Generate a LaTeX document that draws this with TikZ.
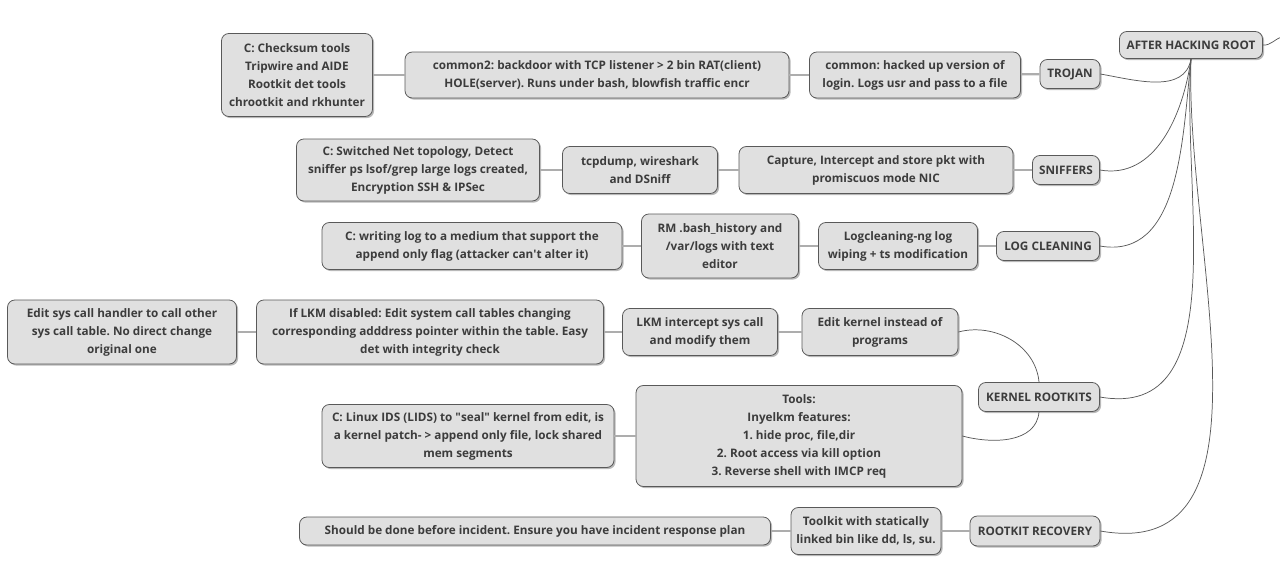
\documentclass[tikz,border=0pt]{standalone}
\usepackage{fontspec}
\setmainfont{Open Sans}
\usepackage{tikz}
\usetikzlibrary{shadows,positioning}
\definecolor{boxfill}{HTML}{E0E0E0}
\definecolor{boxline}{HTML}{595959}
\definecolor{boxtext}{HTML}{3C3C3C}
\definecolor{linkgray}{HTML}{ADADAD}
\frenchspacing

\begin{document}
\begin{tikzpicture}[x=0.75pt,y=-0.75pt,
  box/.style={draw=boxline,fill=boxfill,rounded corners=5.5pt,line width=0.6pt,
    text=boxtext,align=center,inner sep=1pt,
    font=\fontsize{8.8}{13.5}\selectfont\bfseries,
    drop shadow={shadow xshift=1.2pt,shadow yshift=-1.2pt,fill=black!55}},
  boxsize/.style 2 args={minimum width=#1*0.75pt,minimum height=#2*0.75pt},
  link/.style={draw=linkgray,line width=1.6pt},
  branch/.style={draw=boxline,line width=0.55pt}]
  \useasboundingbox (0,0) rectangle (1280,565);
  \node (root) [box,boxsize={143}{27}] at (1191,45) {AFTER HACKING ROOT};
  \node (trojan) [box,boxsize={60}{29}] at (1070,74) {TROJAN};
  \node (hacklogin) [box,boxsize={211}{46}] at (915,75) {common: hacked up version of\\login. Logs usr and pass to a file};
  \node (backdoor) [box,boxsize={384}{46}] at (597,75) {common2: backdoor with TCP listener > 2 bin RAT(client)\\HOLE(server). Runs under bash, blowfish traffic encr};
  \node (checksum) [box,boxsize={151}{83}] at (297,75) {C: Checksum tools\\Tripwire and AIDE\\Rootkit det tools\\chrootkit and rkhunter};
  \node (sniffers) [box,boxsize={67}{29}] at (1066,170) {SNIFFERS};
  \node (capture) [box,boxsize={274}{47}] at (876,170) {Capture, Intercept and store pkt with\\promiscuos mode NIC};
  \node (tcpdump) [box,boxsize={155}{47}] at (640,170) {tcpdump, wireshark\\and DSniff};
  \node (switched) [box,boxsize={243}{62}] at (418,170) {C: Switched Net topology, Detect\\sniffer ps lsof/grep large logs created,\\Encryption SSH \& IPSec};
  \node (logclean) [box,boxsize={103}{29}] at (1048,246) {LOG CLEANING};
  \node (logng) [box,boxsize={159}{47}] at (898,246) {Logcleaning-ng log\\wiping + ts modification};
  \node (rmhist) [box,boxsize={157}{64}] at (720,246) {RM .bash\_history and\\/var/logs with text\\editor};
  \node (appendonly) [box,boxsize={300}{47}] at (472,246) {C: writing log to a medium that support the\\append only flag (attacker can\textquotesingle t alter it)};
  \node (kernel) [box,boxsize={121}{29}] at (1039,397) {KERNEL ROOTKITS};
  \node (editkernel) [box,boxsize={156}{47}] at (880,332) {Edit kernel instead of\\programs};
  \node (lkm) [box,boxsize={155}{47}] at (700,332) {LKM intercept sys call\\and modify them};
  \node (nolkm) [box,boxsize={347}{64}] at (430,332) {If LKM disabled: Edit system call tables changing\\corresponding adddress pointer within the table. Easy\\det with integrity check};
  \node (handler) [box,boxsize={229}{64}] at (122,332) {Edit sys call handler to call other\\sys call table. No direct change\\original one};
  \node (tools) [box,boxsize={326}{101}] at (799,436) {Tools:\\Inyelkm features:\\1. hide proc, file,dir\\2. Root access via kill option\\3. Reverse shell with IMCP req};
  \node (lids) [box,boxsize={292}{63}] at (468,436) {C: Linux IDS (LIDS) to \textquotedbl seal\textquotedbl{} kernel from edit, is\\a kernel patch- > append only file, lock shared\\mem segments};
  \node (recovery) [box,boxsize={130}{30}] at (1035,531) {ROOTKIT RECOVERY};
  \node (toolkit) [box,boxsize={150}{47}] at (866,531) {Toolkit with statically\\linked bin like dd, ls, su.};
  \node (plan) [box,boxsize={471}{28}] at (535,531) {Should be done before incident. Ensure you have incident response plan};
  \coordinate (offright) at (1282,37);

  \draw[branch] (root.east) to[out=-5,in=195] (offright);
  \draw[branch] (trojan.east) to[out=-10,in=-100] (root.south);
  \draw[branch] (sniffers.east) to[out=-10,in=-98] (root.south);
  \draw[branch] (logclean.east) to[out=-10,in=-96] (root.south);
  \draw[branch] (kernel.east) to[out=-10,in=-94] (root.south);
  \draw[branch] (recovery.east) to[out=-10,in=-92] (root.south);
  \draw[branch] (kernel.north) to[out=95,in=15] (editkernel.east);
  \draw[branch] (kernel.south) to[out=-95,in=-15] (tools.east);
  \draw[link] (trojan) -- (hacklogin);
  \draw[link] (hacklogin) -- (backdoor);
  \draw[link] (backdoor) -- (checksum);
  \draw[link] (sniffers) -- (capture);
  \draw[link] (capture) -- (tcpdump);
  \draw[link] (tcpdump) -- (switched);
  \draw[link] (logclean) -- (logng);
  \draw[link] (logng) -- (rmhist);
  \draw[link] (rmhist) -- (appendonly);
  \draw[link] (editkernel) -- (lkm);
  \draw[link] (lkm) -- (nolkm);
  \draw[link] (nolkm) -- (handler);
  \draw[link] (tools) -- (lids);
  \draw[link] (recovery) -- (toolkit);
  \draw[link] (toolkit) -- (plan);
\end{tikzpicture}
\end{document}
